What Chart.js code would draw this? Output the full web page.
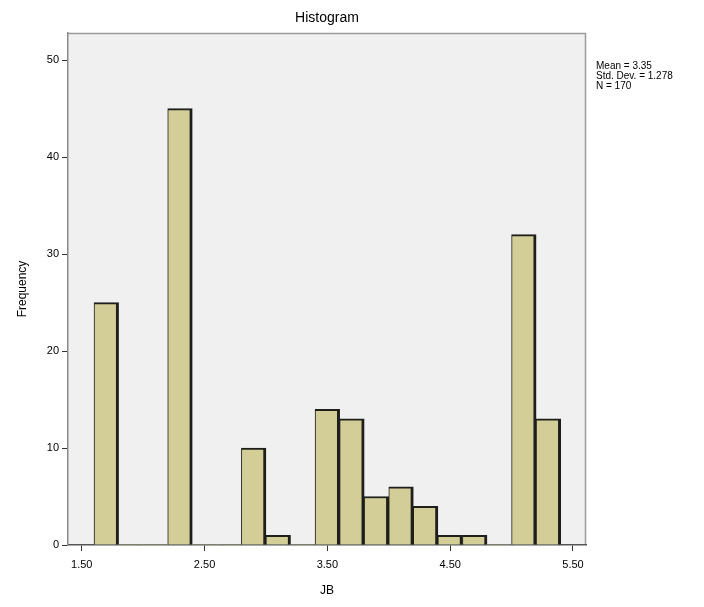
<!DOCTYPE html>
<html>
<head>
<meta charset="utf-8">
<script src="https://cdn.jsdelivr.net/npm/chart.js@4.4.1/dist/chart.umd.min.js"></script>
<style>
html,body{margin:0;padding:0;background:#fff;}
#wrap{width:704px;height:607px;position:relative;}
</style>
</head>
<body>
<div id="wrap"><canvas id="c" width="704" height="607"></canvas></div>
<script>
// Bin centres (bin width 0.2) and counts
const binCenters = [1.7, 1.9, 2.1, 2.3, 2.5, 2.7, 2.9, 3.1, 3.3, 3.5, 3.7, 3.9, 4.1, 4.3, 4.5, 4.7, 4.9, 5.1, 5.3];
const frequencies = [25, 0, 0, 45, 0, 0, 10, 1, 0, 14, 13, 5, 6, 4, 1, 1, 0, 32, 13];
const xTickValues = [1.5, 2.5, 3.5, 4.5, 5.5];
const yTickValues = [0, 10, 20, 30, 40, 50];
const chartTitle = 'Histogram';
const xTitle = 'JB';
const yTitle = 'Frequency';
const statLines = ['Mean = 3.35', 'Std. Dev. = 1.278', 'N = 170'];

const points = binCenters.map((x, i) => ({x: x, y: frequencies[i]}));

const FONT = 'Liberation Sans, Arial, sans-serif';

const deco = {
  id: 'deco',
  beforeDraw(chart) {
    const {ctx, chartArea: a} = chart;
    ctx.save();
    ctx.fillStyle = '#f0f0f0';
    ctx.fillRect(a.left, a.top, a.right - a.left, a.bottom - a.top);
    ctx.strokeStyle = '#9a9a9a';
    ctx.lineWidth = 1.5;
    ctx.beginPath();
    ctx.moveTo(a.left, a.top + 0.5);
    ctx.lineTo(a.right - 0.5, a.top + 0.5);
    ctx.lineTo(a.right - 0.5, a.bottom);
    ctx.stroke();
    ctx.restore();
  },
  afterDraw(chart) {
    const {ctx, chartArea: a} = chart;
    ctx.save();
    ctx.fillStyle = '#000';
    ctx.font = '14px ' + FONT;
    ctx.textAlign = 'center';
    ctx.textBaseline = 'middle';
    ctx.fillText(chartTitle, (a.left + a.right) / 2, 18);
    ctx.font = '10px ' + FONT;
    ctx.textAlign = 'left';
    statLines.forEach((t, i) => ctx.fillText(t, a.right + 10, 66 + i * 10));
    ctx.restore();
  }
};

new Chart(document.getElementById('c'), {
  type: 'bar',
  data: {
    datasets: [{
      data: points,
      backgroundColor: '#d3ce97',
      borderColor: '#1e1e1a',
      borderWidth: (c) => (c.raw && c.raw.y > 0) ? {top: 2, right: 3, left: 1, bottom: 0} : 0,
      borderSkipped: false,
      barPercentage: 1.0,
      categoryPercentage: 1.0
    }]
  },
  options: {
    responsive: false,
    animation: false,
    layout: {padding: {left: 0, top: 33, right: 118, bottom: 0}},
    plugins: {legend: {display: false}, tooltip: {enabled: false}, title: {display: false}},
    scales: {
      x: {
        type: 'linear',
        offset: false,
        min: 1.388,
        max: 5.606,
        afterBuildTicks: (s) => { s.ticks = xTickValues.map(v => ({value: v})); },
        afterFit: (s) => { s.height = 62; },
        grid: {display: true, drawOnChartArea: false, drawTicks: true, tickLength: 6, color: '#333', offset: false},
        border: {display: true, color: '#555', width: 1.5},
        ticks: {color: '#000', font: {family: FONT, size: 11}, padding: 7,
          callback: (v) => Number(v).toFixed(2)},
        title: {display: true, text: xTitle, color: '#000', font: {family: FONT, size: 12}, padding: {top: 0, bottom: 9}}
      },
      y: {
        min: 0,
        max: 52.8,
        afterBuildTicks: (s) => { s.ticks = yTickValues.map(v => ({value: v})); },
        afterFit: (s) => { s.width = 68; },
        grid: {display: true, drawOnChartArea: false, drawTicks: true, tickLength: 6, color: '#333'},
        border: {display: true, color: '#8a8a8a', width: 1.5},
        ticks: {color: '#000', font: {family: FONT, size: 11}, padding: 3},
        title: {display: true, text: yTitle, color: '#000', font: {family: FONT, size: 12}, padding: {top: 15, bottom: 0}}
      }
    }
  },
  plugins: [deco]
});
</script>
</body>
</html>
